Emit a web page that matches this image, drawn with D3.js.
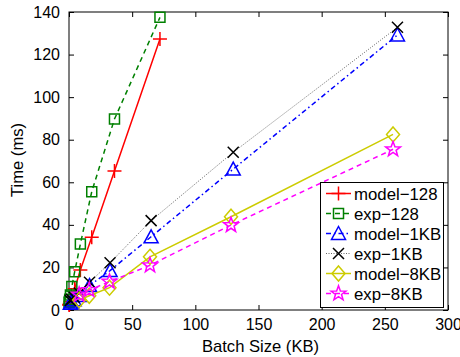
<!DOCTYPE html>
<html><head><meta charset="utf-8">
<script src="https://cdn.jsdelivr.net/npm/d3@7"></script>
<style>body{margin:0;background:#fff}svg{display:block}text{font-family:"Liberation Sans",Arial,sans-serif}</style>
</head><body><svg id="c" width="460" height="357"></svg>
<script>
const xTicks=[0,50,100,150,200,250,300];
const yTicks=[0,20,40,60,80,100,120,140];
const x128=[0.140625,0.28125,0.5625,1.125,2.25,4.5,9,18,36,72];
const x1KB=[1.015625,2.03125,4.0625,8.125,16.25,32.5,65,130,260];
const x8KB=[8.015625,16.03125,32.0625,64.125,128.25,256.5];
const model128=[2.3,2.5,3,4,6,10,18.8,34.2,65.3,127.3];
const exp128=[3.5,4,5,7,11,18,31,55.6,89.7,137.5];
const model1KB=[3.2,3.8,4.8,6.8,11.5,18.5,34.4,66.2,129.2];
const exp1KB=[4.5,5,6,8,13,22.2,42,74.1,132.8];
const model8KB=[4.7,6.7,10.5,25,43.8,82.5];
const exp8KB=[7.2,9.4,13.3,21,39.9,75.5];
const names=["model\u2212128","exp\u2212128","model\u22121KB","exp\u22121KB","model\u22128KB","exp\u22128KB"];

const svg=d3.select("#c");
const L=69,R=448,T=12,B=310;
const x=d3.scaleLinear().domain([0,300]).range([L,R]);
const y=d3.scaleLinear().domain([0,140]).range([B,T]);

const star=(()=>{let p=[];for(let i=0;i<10;i++){const r=i%2?3.2:7.8;const a=-Math.PI/2+i*Math.PI/5;p.push([r*Math.cos(a),r*Math.sin(a)]);}return "M"+p.map(d=>d.map(v=>v.toFixed(2)).join(",")).join("L")+"Z";})();
const marks={
 plus:"M-7,0H7M0,-7V7",
 square:"M-5,-5H5V5H-5Z",
 tri:"M0,-7L7,6H-7Z",
 cross:"M-5.5,-5.5L5.5,5.5M-5.5,5.5L5.5,-5.5",
 diamond:"M0,-7.5L6.5,0L0,7.5L-6.5,0Z",
 star:star
};
const series=[
 {xs:x128,ys:model128,c:"#ff0000",lc:"#ff0000",dash:null,w:1.5,m:"plus"},
 {xs:x128,ys:exp128,c:"#008000",lc:"#008000",dash:"5,4",w:1.5,m:"square"},
 {xs:x1KB,ys:model1KB,c:"#0000ff",lc:"#0000ff",dash:"5,3,1.5,3",w:1.5,m:"tri"},
 {xs:x1KB,ys:exp1KB,c:"#000000",lc:"#666666",dash:"1,1.5",w:1,m:"cross"},
 {xs:x8KB,ys:model8KB,c:"#cccc00",lc:"#cccc00",dash:null,w:1.5,m:"diamond"},
 {xs:x8KB,ys:exp8KB,c:"#ff00ff",lc:"#ff00ff",dash:"5,4",w:1.5,m:"star"}
];

const g=svg.append("g");
g.append("rect").attr("x",L).attr("y",T).attr("width",R-L).attr("height",B-T).attr("fill","none").attr("stroke","#000").attr("stroke-width",1);
const xa=d3.axisBottom(x).tickValues(xTicks).tickSizeInner(-5).tickSizeOuter(0).tickPadding(9);
const ya=d3.axisLeft(y).tickValues(yTicks).tickSizeInner(-5).tickSizeOuter(0).tickPadding(9);
g.append("g").attr("transform",`translate(0,${B})`).call(xa);
g.append("g").attr("transform",`translate(${L},0)`).call(ya);
g.append("g").attr("transform",`translate(0,${T})`).call(d3.axisTop(x).tickValues(xTicks).tickSizeInner(-5).tickSizeOuter(0).tickFormat(""));
g.append("g").attr("transform",`translate(${R},0)`).call(d3.axisRight(y).tickValues(yTicks).tickSizeInner(-5).tickSizeOuter(0).tickFormat(""));
g.selectAll(".domain").remove();
g.selectAll(".tick line").attr("stroke","#000");
g.selectAll(".tick text").attr("font-size",16).attr("fill","#000").style("font-family",'"Liberation Sans",Arial,sans-serif');

svg.append("text").attr("x",(L+R)/2+2).attr("y",352).attr("text-anchor","middle").attr("font-size",16.6).text("Batch Size (KB)");
svg.append("text").attr("transform","translate(23,160) rotate(-90)").attr("text-anchor","middle").attr("font-size",16.6).text("Time (ms)");

const line=d3.line().x(d=>x(d[0])).y(d=>y(d[1]));
series.forEach(s=>{
 const pts=s.xs.map((v,i)=>[v,s.ys[i]]);
 svg.append("path").attr("d",line(pts)).attr("fill","none").attr("stroke",s.lc).attr("stroke-width",s.w).attr("stroke-dasharray",s.dash);
 svg.selectAll(null).data(pts).enter().append("path").attr("d",marks[s.m]).attr("transform",d=>`translate(${x(d[0])},${y(d[1])})`).attr("fill","none").attr("stroke",s.c).attr("stroke-width",1.5);
});

const lg=svg.append("g");
lg.append("rect").attr("x",320.5).attr("y",182.5).attr("width",123).attr("height",125).attr("fill","#fff").attr("stroke","#000").attr("stroke-width",1);
series.forEach((s,i)=>{
 const yy=193.5+i*20;
 lg.append("line").attr("x1",326).attr("x2",351).attr("y1",yy).attr("y2",yy).attr("stroke",s.lc).attr("stroke-width",s.w).attr("stroke-dasharray",s.dash);
 lg.append("path").attr("d",marks[s.m]).attr("transform",`translate(338.5,${yy})`).attr("fill","none").attr("stroke",s.c).attr("stroke-width",1.5);
 lg.append("text").attr("x",354).attr("y",yy+6).attr("font-size",16.8).text(names[i]);
});
</script></body></html>
